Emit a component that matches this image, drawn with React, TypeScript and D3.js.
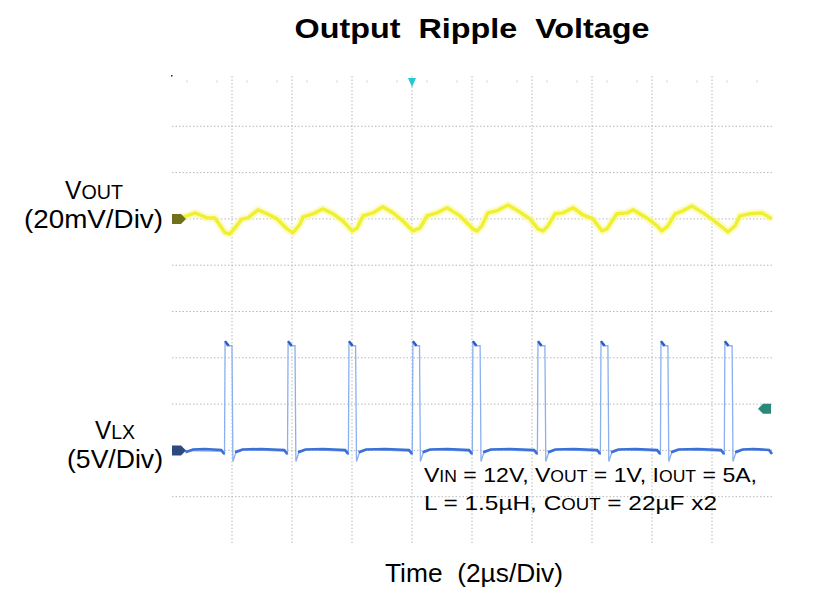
import React from 'react';
import * as d3 from 'd3';

// ---- data read from the scope shot ----
// time in µs (2 µs/div), VOUT ripple in mV (20 mV/div), VLX in V (5 V/div)
const gridTimes = [2, 4, 6, 8, 10, 12, 14, 16, 18];
const gridLevelsMv = [40, 20, 0, -20, -40, -60, -80, -100, -120];

const voutTrace: [number, number][] = [
  [0, 0], [0.5, 1.3], [0.77, 2.6], [1.17, 0.4], [1.43, 0.4], [1.77, -6.0], [1.93, -6.5],
  [2.1, -3.9], [2.33, 0], [2.53, 0.4], [2.87, 3.9], [3.17, 2.2], [3.5, 0], [3.83, -4.3],
  [4.03, -6.0], [4.27, -2.2], [4.37, 0.9], [4.7, 2.2], [5.03, 4.3], [5.37, 2.2], [5.7, -0.9],
  [6.0, -5.2], [6.17, -3.9], [6.37, 1.3], [6.7, 2.6], [7.03, 5.2], [7.37, 2.6], [7.7, -0.9],
  [8.03, -5.2], [8.27, -3.9], [8.5, 1.3], [8.83, 2.6], [9.17, 4.8], [9.6, 1.3], [10.03, -4.3],
  [10.17, -5.2], [10.33, -3.0], [10.53, 2.6], [10.83, 3.5], [11.2, 6.0], [11.53, 3.5], [11.93, 0],
  [12.2, -4.3], [12.37, -5.2], [12.53, -3.0], [12.77, 2.2], [13.03, 2.6], [13.37, 4.8], [13.7, 1.7],
  [14.03, 0], [14.33, -5.2], [14.5, -4.3], [14.83, 2.2], [15.17, 2.6], [15.37, 3.9], [15.83, 0.4],
  [16.17, -3.0], [16.33, -5.2], [16.53, -3.0], [16.77, 2.2], [17.03, 3.5], [17.33, 5.6], [17.7, 2.6],
  [18.03, -0.4], [18.37, -3.9], [18.53, -5.6], [18.77, -3.0], [18.93, 1.3], [19.27, 2.2], [19.67, 2.6],
  [20, 0],
];

const lxRise = [1.77, 3.87, 5.9, 8.03, 10.03, 12.2, 14.3, 16.3, 18.43];
const lxFall = [2.0, 4.1, 6.12, 8.25, 10.27, 12.43, 14.53, 16.53, 18.67];
const lxHigh = 11.8; // V, top of the switching pulse
const lxDroop = 11.3;
const lxUnder = -1.2;
const lxRefLevel = 4.5; // right-hand trigger level marker, V

const W = 816;
const H = 603;
const L = 172, R = 772, T = 80, B = 543;

export default function App() {
  const x = d3.scaleLinear().domain([0, 20]).range([L, R]);
  const yOut = d3.scaleLinear().domain([-140, 60]).range([B, T]);
  const yLx = d3.scaleLinear().domain([-10, 40]).range([B, T]);

  const outLine = d3.line<[number, number]>()
    .x((d) => x(d[0]))
    .y((d) => yOut(d[1]));

  const lx = d3.line<[number, number]>().x((d) => x(d[0])).y((d) => yLx(d[1]));

  // square wave assembled from the read edges
  const lxPts: [number, number][] = [[0, 0]];
  lxRise.forEach((r, i) => {
    const f = lxFall[i];
    lxPts.push([r - 0.06, -0.1], [r - 0.02, -0.5], [r, lxHigh], [r + 0.07, lxDroop], [f, lxDroop],
      [f + 0.03, lxUnder], [f + 0.12, -0.3], [f + 0.4, 0.1]);
  });
  lxPts.push([20, 0]);

  const segStarts = [0.45, ...lxFall.map((f) => f + 0.1)];
  const segEnds = [...lxRise.map((r) => r - 0.03), 20];
  const base = segStarts.map((s, i) =>
    lx([[s, -0.2], [s + 0.25, 0.1], [(s + segEnds[i]) / 2, 0.15], [segEnds[i] - 0.1, 0.05], [segEnds[i], -0.4]])
  );

  const font = '"Liberation Sans", Arial, sans-serif';
  const y0 = yOut(0);
  const y0lx = yLx(0);
  const yRef = yLx(lxRefLevel);

  return (
    <svg width={W} height={H} style={{ position: 'absolute', left: 0, top: 0, background: '#fff' }}>
      {/* graticule */}
      <g stroke="#b8b8b8" strokeWidth={1} strokeDasharray="1.5,2">
        {gridTimes.map((t) => (
          <line key={t} x1={x(t)} x2={x(t)} y1={T - 4} y2={B} />
        ))}
        {gridLevelsMv.map((v) => (
          <line key={v} x1={L} x2={R} y1={yOut(v)} y2={yOut(v)} />
        ))}
      </g>
      <g stroke="#dcdcdc" strokeWidth={1}>
        {d3.range(1, 40, 2).map((k) => (
          <line key={k} x1={x(k / 2)} x2={x(k / 2)} y1={T} y2={T + 3} />
        ))}
      </g>
      <rect x={L - 1} y={T - 5} width={1.5} height={1.5} fill="#222" />

      {/* VOUT ripple */}
      <path d={outLine(voutTrace)!} fill="none" stroke="#f8f8a8" strokeWidth={8} strokeLinejoin="round" opacity={0.6} />
      <path d={outLine(voutTrace)!} fill="none" stroke="#f0f032" strokeWidth={3.5} strokeLinejoin="round" />

      {/* VLX switching node */}
      <path d={lx(lxPts)!} fill="none" stroke="#8ab0f0" strokeWidth={1.3} />
      {base.map((d, i) => (
        <path key={i} d={d!} fill="none" stroke="#3a70d8" strokeWidth={2.6} />
      ))}
      {lxRise.map((r, i) => (
        <path key={i} d={lx([[r, lxHigh], [r + 0.12, lxDroop]])!} stroke="#2c5cc0" strokeWidth={2.4} fill="none" />
      ))}

      {/* channel / trigger markers */}
      <path d={`M${L},${y0 - 5}H${L + 9}L${L + 14},${y0}L${L + 9},${y0 + 5}H${L}Z`} fill="#70701c" />
      <path d={`M${L},${y0lx - 5}H${L + 9}L${L + 14},${y0lx}L${L + 9},${y0lx + 5}H${L}Z`} fill="#2c4a80" />
      <path d={`M${x(8) - 4},${T - 2}H${x(8) + 4}L${x(8)},${T + 7}Z`} fill="#22c8d8" />
      <path d={`M${R - 1},${yRef - 5}H${R - 9}L${R - 14},${yRef}L${R - 9},${yRef + 5}H${R - 1}Z`} fill="#2a8a7a" />

      {/* text */}
      <text x={472} y={38} textAnchor="middle" fontFamily={font} fontWeight="bold" fontSize={28}
        textLength={355} lengthAdjust="spacingAndGlyphs" fill="#000" style={{ whiteSpace: 'pre' }}>
        {'Output  Ripple  Voltage'}
      </text>

      <text x={94} y={199} textAnchor="middle" fontFamily={font} fontSize={25} textLength={58} lengthAdjust="spacingAndGlyphs">
        V<tspan fontSize={20}>OUT</tspan>
      </text>
      <text x={163} y={228} textAnchor="end" fontFamily={font} fontSize={25} textLength={139} lengthAdjust="spacingAndGlyphs">
        (20mV/Div)
      </text>
      <text x={115} y={439} textAnchor="middle" fontFamily={font} fontSize={25} textLength={40} lengthAdjust="spacingAndGlyphs">
        V<tspan fontSize={20}>LX</tspan>
      </text>
      <text x={163} y={468} textAnchor="end" fontFamily={font} fontSize={25} textLength={96} lengthAdjust="spacingAndGlyphs">
        (5V/Div)
      </text>

      <text x={424} y={482} fontFamily={font} fontSize={21} textLength={333} lengthAdjust="spacingAndGlyphs">
        V<tspan fontSize={16}>IN</tspan> = 12V, V<tspan fontSize={16}>OUT</tspan> = 1V, I<tspan fontSize={16}>OUT</tspan> = 5A,
      </text>
      <text x={424} y={510} fontFamily={font} fontSize={21} textLength={293} lengthAdjust="spacingAndGlyphs">
        L = 1.5µH, C<tspan fontSize={16}>OUT</tspan> = 22µF x2
      </text>

      <text x={385} y={582} fontFamily={font} fontSize={25} textLength={178} lengthAdjust="spacingAndGlyphs"
        style={{ whiteSpace: 'pre' }}>
        {'Time  (2µs/Div)'}
      </text>
    </svg>
  );
}
